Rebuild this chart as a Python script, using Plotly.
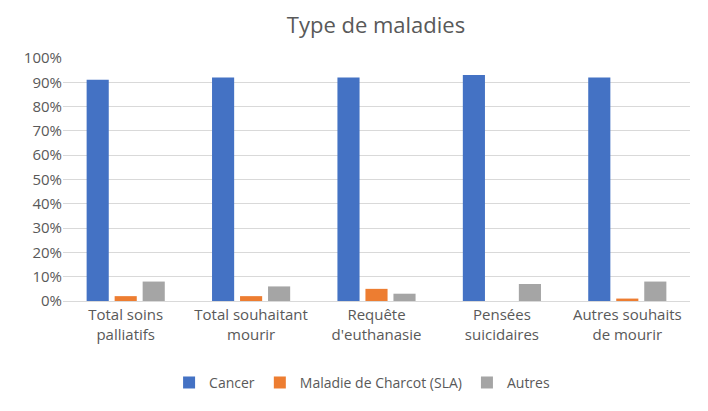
import plotly.graph_objects as go

categories = [
    "Total soins<br>palliatifs",
    "Total souhaitant<br>mourir",
    "Requête<br>d'euthanasie",
    "Pensées<br>suicidaires",
    "Autres souhaits<br>de mourir",
]
cancer = [0.91, 0.92, 0.92, 0.93, 0.92]
sla = [0.02, 0.02, 0.05, 0.0, 0.01]
autres = [0.08, 0.06, 0.03, 0.07, 0.08]

series = [
    ("Cancer", cancer, "#4472C4"),
    ("Maladie de Charcot (SLA)", sla, "#ED7D31"),
    ("Autres", autres, "#A5A5A5"),
]

fig = go.Figure()
for name, vals, color in series:
    fig.add_trace(go.Bar(x=categories, y=vals, name=name, marker_color=color,
                         marker_line_width=0))

# page body has an 8px margin, so everything is placed 8px up/left
fig.update_layout(
    width=708, height=411,
    title=dict(text="Type de maladies", x=368 / 708, xanchor="center",
               y=1 - 17 / 411, yanchor="middle",
               font=dict(size=22, color="#595959", family="Open Sans")),
    font=dict(family="Open Sans", color="#595959", size=14),
    barmode="group", bargap=0.33, bargroupgap=0.21,
    plot_bgcolor="white", paper_bgcolor="white",
    margin=dict(l=55, r=26, t=50, b=118),
    yaxis=dict(range=[0, 1], dtick=0.1, tickformat=".0%", gridcolor="#D9D9D9",
               zeroline=False, showline=False, ticks="", tickfont=dict(size=15)),
    xaxis=dict(showline=True, linecolor="#D9D9D9", ticks="",
               tickfont=dict(size=15)),
    legend=dict(orientation="h", x=0.477, xanchor="center", y=-0.337,
                yanchor="middle", font=dict(size=14)),
)

fig.write_html("out.html")
